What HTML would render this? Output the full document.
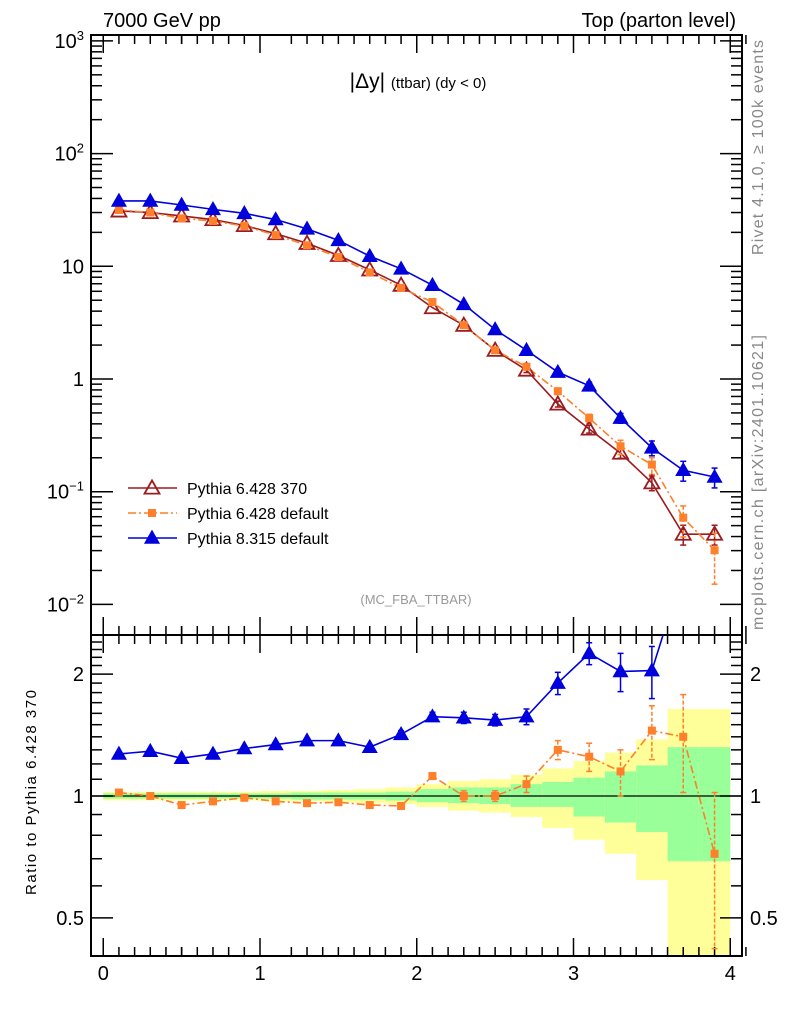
<!DOCTYPE html>
<html><head><meta charset="utf-8"><style>
body{margin:0;background:#fff;}
svg{display:block;font-family:"Liberation Sans",sans-serif;}
</style></head><body>
<svg id="c" width="786" height="1024" viewBox="0 0 786 1024" xmlns="http://www.w3.org/2000/svg">
<text x="103" y="27" font-size="20">7000 GeV pp</text>
<text x="736" y="27" font-size="20" text-anchor="end">Top (parton level)</text>
<text x="418" y="88" font-size="21" text-anchor="middle">|Δy| <tspan font-size="15">(ttbar) (dy &lt; 0)</tspan></text>
<text x="416" y="604" font-size="13" fill="#999" text-anchor="middle">(MC_FBA_TTBAR)</text>
<text transform="translate(763,255) rotate(-90)" font-size="16" fill="#888" textLength="215">Rivet 4.1.0, ≥ 100k events</text>
<text transform="translate(763,630) rotate(-90)" font-size="16" fill="#888" textLength="295">mcplots.cern.ch [arXiv:2401.10621]</text>
<text transform="translate(36,895) rotate(-90)" font-size="15" textLength="205">Ratio to Pythia 6.428 370</text>
<g id="g"></g>
</svg>
<script>
const xCenters=[0.1,0.3,0.5,0.7,0.9,1.1,1.3,1.5,1.7,1.9,2.1,2.3,2.5,2.7,2.9,3.1,3.3,3.5,3.7,3.9];
const refVals=[31,30,28,26,23,19.5,16,12.5,9.3,6.8,4.3,3.0,1.8,1.2,0.6,0.36,0.22,0.12,0.042,0.042];
const defRatio=[1.02,1.0,0.95,0.97,0.99,0.97,0.96,0.965,0.95,0.945,1.12,1.0,1.0,1.07,1.3,1.25,1.15,1.45,1.4,0.72];
const defRatioErr=[0.01,0.01,0.01,0.01,0.01,0.01,0.01,0.01,0.01,0.01,0.02,0.03,0.03,0.05,0.07,0.1,0.15,0.22,0.38,0.3];
const p8Vals=[38,38,35,32,29.5,26,21.5,17,12.3,9.5,6.8,4.6,2.75,1.8,1.15,0.87,0.45,0.245,0.155,0.135];
const p8Ratio=[1.27,1.29,1.24,1.27,1.31,1.34,1.37,1.37,1.32,1.42,1.57,1.56,1.54,1.57,1.9,2.25,2.03,2.04,3.6,3.2];
const p8RatioErr=[0.01,0.01,0.01,0.01,0.01,0.01,0.01,0.01,0.02,0.03,0.04,0.05,0.05,0.07,0.12,0.14,0.22,0.3,0.5,0.5];
const refRelErr=[0.01,0.01,0.01,0.01,0.01,0.01,0.01,0.01,0.01,0.01,0.02,0.02,0.03,0.05,0.06,0.08,0.1,0.15,0.2,0.2];
const greenUp=[1.015,1.015,1.015,1.015,1.015,1.015,1.02,1.02,1.02,1.025,1.04,1.05,1.05,1.07,1.083,1.11,1.15,1.19,1.32,1.32];
const greenDn=[0.985,0.985,0.985,0.985,0.985,0.985,0.98,0.98,0.98,0.975,0.965,0.96,0.955,0.94,0.94,0.89,0.86,0.815,0.69,0.69];
const yelUp=[1.025,1.025,1.025,1.025,1.025,1.03,1.03,1.035,1.04,1.05,1.07,1.09,1.1,1.127,1.17,1.22,1.28,1.38,1.64,1.64];
const yelDn=[0.975,0.975,0.975,0.975,0.975,0.97,0.97,0.965,0.96,0.955,0.94,0.92,0.91,0.887,0.834,0.78,0.72,0.62,0.3,0.3];
const xTicks=[0,1,2,3,4];
const mainDecades=[-2,-1,0,1,2,3];
const mainLabels=["10<tspan dy='-8' font-size='13'>−2</tspan>","10<tspan dy='-8' font-size='13'>−1</tspan>","1","10","10<tspan dy='-8' font-size='13'>2</tspan>","10<tspan dy='-8' font-size='13'>3</tspan>"];
const ratioTicks=[0.5,1,2];

const L=91,R=742,T=35,M=635,B=956;
const X=v=>103.25+156.75*v;
const Y=v=>379-112.7*Math.log10(v);
const YR=v=>796-405*Math.log10(v);
const g=document.getElementById('g');
const NS='http://www.w3.org/2000/svg';
function mk(tag,a,parent){const e=document.createElementNS(NS,tag);for(const k in a)e.setAttribute(k,a[k]);(parent||g).appendChild(e);return e;}
function clipT(y){return Math.max(M,Math.min(B,y));}

for(let i=0;i<xCenters.length;i++){
  const x0=X(xCenters[i]-0.1),x1=X(xCenters[i]+0.1);
  let r=mk('rect',{x:x0,y:clipT(YR(yelUp[i])),width:x1-x0,height:clipT(YR(yelDn[i]))-clipT(YR(yelUp[i])),fill:'#ffff99'});
  
  
  r=mk('rect',{x:x0,y:YR(greenUp[i]),width:x1-x0,height:YR(greenDn[i])-YR(greenUp[i]),fill:'#99ff99'});
  
  
}
mk('line',{x1:L,x2:R,y1:YR(1),y2:YR(1),stroke:'#000','stroke-width':1.3});

let f=mk('rect',{x:L,y:T,width:R-L,height:M-T,fill:'none',stroke:'#000','stroke-width':2});


f=mk('rect',{x:L,y:M,width:R-L,height:B-M,fill:'none',stroke:'#000','stroke-width':2});



for(let v=-0.05;v<=4.08;v+=0.1){
  const vv=Math.round(v*10)/10; if(vv<-0.07) continue;
  const x=X(vv),maj=Math.abs(vv-Math.round(vv))<1e-6,len=maj?18:9;
  for(const [y,d] of [[T,1],[M,-1],[M,1],[B,-1]]) mk('line',{x1:x,x2:x,y1:y,y2:y+d*len,stroke:'#000','stroke-width':1.5});
}
xTicks.forEach(v=>{const t=mk('text',{x:X(v),y:980,'font-size':20,'text-anchor':'middle'});t.textContent=v;
 
 });

mainDecades.forEach((d,i)=>{
  for(let m=1;m<10;m++){const y=Y(m*Math.pow(10,d)); if(y<T||y>M) continue;
    const len=m==1?22:11;
    mk('line',{x1:L,x2:L+len,y1:y,y2:y,stroke:'#000','stroke-width':1.5});
    mk('line',{x1:R,x2:R-len,y1:y,y2:y,stroke:'#000','stroke-width':1.5});}
  const t=mk('text',{x:84,y:Y(Math.pow(10,d))+7,'font-size':20,'text-anchor':'end'});t.innerHTML=mainLabels[i];
  
  
});
for(let v=0.4;v<=2.51;v+=0.1){const vv=Math.round(v*10)/10;const y=YR(vv);if(y<M||y>B)continue;
  const maj=ratioTicks.includes(vv),len=maj?22:11;
  mk('line',{x1:L,x2:L+len,y1:y,y2:y,stroke:'#000','stroke-width':1.5});
  mk('line',{x1:R,x2:R-len,y1:y,y2:y,stroke:'#000','stroke-width':1.5});}
ratioTicks.forEach(v=>{
  let t=mk('text',{x:84,y:YR(v)+7,'font-size':20,'text-anchor':'end'});t.textContent=v;
  
  
  t=mk('text',{x:750,y:YR(v)+7,'font-size':20});t.textContent=v;
  
  
});

function tri(x,y,s,col,fill,name){const p=mk('polygon',{points:`${x},${y-s} ${x-s},${y+s*0.75} ${x+s},${y+s*0.75}`,fill:fill,stroke:col,'stroke-width':1.8});
  }
function sq(x,y,s,col,name){const p=mk('rect',{x:x-s,y:y-s,width:2*s,height:2*s,fill:col});
  }
function errbar(x,y1,y2,col,dash){mk('line',{x1:x,x2:x,y1:y1,y2:y2,stroke:col,'stroke-width':1.5,'stroke-dasharray':dash||''});
  mk('line',{x1:x-3,x2:x+3,y1:y1,y2:y1,stroke:col,'stroke-width':1.5});mk('line',{x1:x-3,x2:x+3,y1:y2,y2:y2,stroke:col,'stroke-width':1.5});}

const RED='#9b1b1f',ORG='#ff7f2a',BLU='#0000dd';
const defVals=refVals.map((v,i)=>v*defRatio[i]);
function line(vals,fy,col,dash,name){const pts=xCenters.map((x,i)=>[X(x),fy(vals[i])]);
  const p=mk('polyline',{points:pts.map(q=>q.join(',')).join(' '),fill:'none',stroke:col,'stroke-width':1.6,'stroke-dasharray':dash||''});
  return pts;}
const cp=mk('clipPath',{id:'rc'});mk('rect',{x:L,y:M,width:R-L,height:B-M},cp);

line(refVals,Y,RED,'','ref-line');
line(defVals,Y,ORG,'8,3,2,3','default-line');
line(p8Vals,Y,BLU,'','p8-line');
xCenters.forEach((x,i)=>{
  const e=refRelErr[i];
  if(e>0.03){errbar(X(x),Y(refVals[i]*(1+e)),Y(refVals[i]*(1-e)),RED);
   errbar(X(x),Y(defVals[i]*(1+defRatioErr[i]/defRatio[i])),Y(defVals[i]*Math.max(0.05,1-defRatioErr[i]/defRatio[i]*1.2)),ORG,'4,2');
   errbar(X(x),Y(p8Vals[i]*(1+e)),Y(p8Vals[i]*(1-e)),BLU);}
  tri(X(x),Y(refVals[i]),7.5,RED,'none','ref-point');
  sq(X(x),Y(defVals[i]),4,ORG,'default-point');
  tri(X(x),Y(p8Vals[i]),6.5,BLU,BLU,'p8-point');
});
const rg=mk('g',{'clip-path':'url(#rc)'});
const rl=(vals,col,dash,name)=>{const p=mk('polyline',{points:xCenters.map((x,i)=>X(x)+','+YR(vals[i])).join(' '),fill:'none',stroke:col,'stroke-width':1.6,'stroke-dasharray':dash||''},rg);
  };
rl(defRatio,ORG,'8,3,2,3','default-ratio-line');
rl(p8Ratio,BLU,'','p8-ratio-line');
xCenters.forEach((x,i)=>{
  if(defRatioErr[i]>0.01) errbar(X(x),clipT(YR(defRatio[i]+defRatioErr[i])),clipT(YR(Math.max(0.3,defRatio[i]-defRatioErr[i]))),ORG,'4,2');
  if(p8Ratio[i]<2.5){ if(p8RatioErr[i]>0.01) errbar(X(x),YR(p8Ratio[i]+p8RatioErr[i]),YR(p8Ratio[i]-p8RatioErr[i]),BLU);
    tri(X(x),YR(p8Ratio[i]),6.5,BLU,BLU,'p8-ratio-point');}
  sq(X(x),YR(defRatio[i]),4,ORG,'default-ratio-point');
});

const leg=[['Pythia 6.428 370',RED,'','tri0'],['Pythia 6.428 default',ORG,'8,3,2,3','sq'],['Pythia 8.315 default',BLU,'','tri1']];
leg.forEach((l,i)=>{const y=488+25*i;
  const lg=mk('line',{x1:128,x2:177,y1:y,y2:y,stroke:l[1],'stroke-width':1.6,'stroke-dasharray':l[2]});
  
  if(l[3]=='sq') sq(152,y,4,ORG,'legend-marker'); else tri(152,y,l[3]=='tri0'?7.5:6.5,l[1],l[3]=='tri0'?'none':l[1],'legend-marker');
  const t=mk('text',{x:187,y:y+6,'font-size':16});t.textContent=l[0];
  
});
</script>
</body></html>
